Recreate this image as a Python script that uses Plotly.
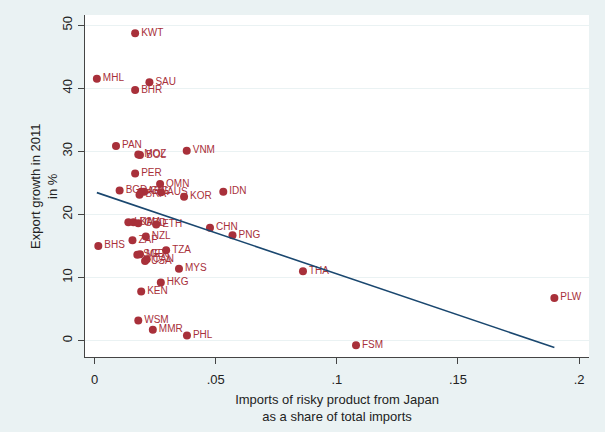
import plotly.graph_objects as go

countries = ["KWT", "MHL", "SAU", "BHR", "PAN", "VNM", "MOZ", "BOL", "PER", "OMN",
             "BGD", "ARG", "CHL", "BRA", "AUS", "KOR", "IDN", "CHN", "PNG", "ETH",
             "LKA", "DMA", "GRD", "NZL", "ZAF", "BHS", "TZA", "SGP", "MEX", "USA",
             "CAN", "MYS", "HKG", "KEN", "WSM", "MMR", "PHL", "FSM", "THA", "PLW"]
import_share = [0.0167, 0.0009, 0.0226, 0.0167, 0.0088, 0.0380, 0.0180, 0.0187, 0.0167, 0.0270,
                0.0103, 0.0192, 0.0204, 0.0185, 0.0274, 0.0369, 0.0531, 0.0476, 0.0569, 0.0254,
                0.0139, 0.0160, 0.0180, 0.0211, 0.0156, 0.0015, 0.0295, 0.0176, 0.0187, 0.0208,
                0.0215, 0.0348, 0.0273, 0.0192, 0.0180, 0.0240, 0.0381, 0.1079, 0.0860, 0.1898]
export_growth = [48.7, 41.5, 40.95, 39.7, 30.85, 30.1, 29.5, 29.4, 26.5, 24.8,
                 23.8, 23.6, 23.6, 23.1, 23.5, 22.8, 23.6, 17.9, 16.7, 18.4,
                 18.76, 18.76, 18.6, 16.5, 15.9, 15.0, 14.3, 13.6, 13.7, 12.6,
                 12.9, 11.4, 9.2, 7.8, 3.2, 1.7, 0.8, -0.75, 11.0, 6.77]

fit_x = [0.0009, 0.1898]
fit_y = [23.45, -1.1]

x_ticks = [0, 0.05, 0.1, 0.15, 0.2]
x_tick_labels = ["0", ".05", ".1", ".15", ".2"]
y_ticks = [0, 10, 20, 30, 40, 50]

marker_color = "#a8303a"
line_color = "#1a476f"
bg = "#eaf2f3"
font_family = "Liberation Sans, Arial, sans-serif"

fig = go.Figure()
fig.add_trace(go.Scatter(
    x=import_share, y=export_growth, mode="markers+text",
    text=countries, textposition="middle right",
    textfont=dict(size=10, color=marker_color, family=font_family),
    marker=dict(size=8, color=marker_color, line=dict(width=0)),
    showlegend=False, cliponaxis=False,
))
fig.add_trace(go.Scatter(
    x=fit_x, y=fit_y, mode="lines",
    line=dict(color=line_color, width=1.6),
    showlegend=False,
))

fig.update_layout(
    width=605, height=432,
    paper_bgcolor=bg, plot_bgcolor="white",
    margin=dict(l=85, r=16, t=15, b=75, autoexpand=False),
    font=dict(family=font_family, size=13, color="#222"),
    xaxis=dict(
        range=[-0.004, 0.2041], tickvals=x_ticks, ticktext=x_tick_labels,
        showgrid=False, zeroline=False, showline=True, linecolor="#444", linewidth=1.2,
        ticks="outside", ticklen=6, tickcolor="#444", ticklabelstandoff=4,
        tickfont=dict(size=13), automargin=False,
        title=dict(text="Imports of risky product from Japan<br>as a share of total imports",
                   font=dict(size=13), standoff=9),
    ),
    yaxis=dict(
        range=[-2.6, 51.6], tickvals=y_ticks, tickangle=-90,
        showgrid=True, gridcolor=bg, gridwidth=1.2,
        zeroline=False, showline=True, linecolor="#444", linewidth=1.2,
        ticks="outside", ticklen=6, tickcolor="#444", ticklabelstandoff=1,
        tickfont=dict(size=13), automargin=False,
    ),
    annotations=[dict(
        text="Export growth in 2011<br>in %", textangle=-90,
        xref="paper", yref="paper", x=0, y=0.5, xanchor="center", yanchor="middle",
        xshift=-41, showarrow=False, font=dict(size=13, color="#222"),
    )],
)

fig.write_html("out.html", config={"displayModeBar": False},
               post_script="document.body.style.margin='0';document.body.style.background='%s';" % bg)
